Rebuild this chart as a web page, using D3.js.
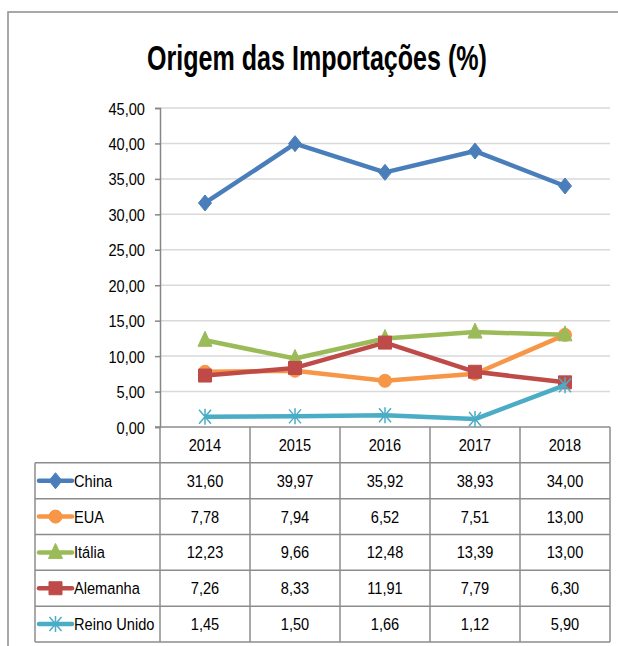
<!DOCTYPE html>
<html>
<head>
<meta charset="utf-8">
<script src="https://cdn.jsdelivr.net/npm/d3@7"></script>
<style>
  body { margin: 0; background: #fff; }
  svg { display: block; font-family: "Liberation Sans", Arial, sans-serif; }
</style>
</head>
<body>
<div id="chart"></div>
<script>
var years = ['2014', '2015', '2016', '2017', '2018'];
var seriesNames = ['China', 'EUA', 'Itália', 'Alemanha', 'Reino Unido'];
var china = [31.60, 39.97, 35.92, 38.93, 34.00];
var eua = [7.78, 7.94, 6.52, 7.51, 13.00];
var italia = [12.23, 9.66, 12.48, 13.39, 13.00];
var alemanha = [7.26, 8.33, 11.91, 7.79, 6.30];
var reinoUnido = [1.45, 1.50, 1.66, 1.12, 5.90];
var yTicks = [0, 5, 10, 15, 20, 25, 30, 35, 40, 45];

var seriesValues = [china, eua, italia, alemanha, reinoUnido];
var colors = ['#4A7EBB', '#F79646', '#9BBB59', '#BE4B48', '#4BACC6'];
var markers = ['diamond', 'circle', 'triangle', 'square', 'star'];

var W = 618, H = 646;
var plotLeft = 160, plotRight = 610, plotTop = 108, plotBottom = 427;
var tableLeft = 35, rowH = (642 - plotBottom) / 6;
var fontSize = 17, squeeze = 0.86;   // narrow text, the reference uses a condensed face

function fmt(v) { return v.toFixed(2).replace('.', ','); }

// text drawn with a horizontal squeeze
function narrowText(g, tx, ty, str, anchor) {
  return g.append("text")
    .attr("transform", "translate(" + tx + "," + ty + ") scale(" + squeeze + ",1)")
    .attr("text-anchor", anchor || "middle")
    .attr("font-size", fontSize)
    .attr("fill", "#000")
    .text(str);
}

var svg = d3.select("#chart").append("svg")
  .attr("width", W)
  .attr("height", H);

// outer frame
svg.append("rect")
  .attr("x", 8).attr("y", 12)
  .attr("width", W + 20).attr("height", H + 20)
  .attr("fill", "none")
  .attr("stroke", "#8c8c8c")
  .attr("stroke-width", 1.5);

var title = svg.append("text")
  .attr("text-anchor", "middle")
  .attr("font-size", 35)
  .attr("font-weight", "bold")
  .attr("fill", "#000")
  .text("Origem das Importações (%)");
var tw = title.node().getComputedTextLength();
title.attr("transform", "translate(317,70) scale(" + (340 / tw) + ",1)");

var x = d3.scaleBand().domain(years).range([plotLeft, plotRight]);
var y = d3.scaleLinear().domain([0, 45]).range([plotBottom, plotTop]);

// gridlines
svg.append("g")
  .selectAll("line")
  .data(yTicks.slice(1))
  .join("line")
    .attr("x1", plotLeft).attr("x2", plotRight)
    .attr("y1", function(d) { return y(d); })
    .attr("y2", function(d) { return y(d); })
    .attr("stroke", "#d9d9d9")
    .attr("stroke-width", 1.5);

var yAxis = d3.axisLeft(y)
  .tickValues(yTicks)
  .tickSize(5)
  .tickFormat(fmt);

var gy = svg.append("g")
  .attr("transform", "translate(" + plotLeft + ",0)")
  .call(yAxis);
gy.attr("font-family", null).attr("font-size", null);
gy.select(".domain").attr("stroke", "#868686").attr("stroke-width", 1.5);
gy.selectAll(".tick line").attr("stroke", "#868686").attr("stroke-width", 1.5);
gy.selectAll(".tick text")
  .attr("x", null).attr("dy", null)
  .attr("transform", "translate(-15,6) scale(" + squeeze + ",1)")
  .attr("font-size", fontSize)
  .attr("fill", "#000");

// data table
var table = svg.append("g").attr("stroke", "#8c8c8c").attr("stroke-width", 1.5);
table.append("line")
  .attr("x1", plotLeft - 5).attr("x2", plotRight)
  .attr("y1", plotBottom).attr("y2", plotBottom);
for (var r = 1; r <= 6; r++) {
  table.append("line")
    .attr("x1", tableLeft).attr("x2", plotRight)
    .attr("y1", plotBottom + r * rowH).attr("y2", plotBottom + r * rowH);
}
table.append("line")
  .attr("x1", tableLeft).attr("x2", tableLeft)
  .attr("y1", plotBottom + rowH).attr("y2", plotBottom + 6 * rowH);
table.selectAll(".col")
  .data(years.concat(['end']))
  .join("line")
    .attr("x1", function(d, i) { return plotLeft + i * x.bandwidth(); })
    .attr("x2", function(d, i) { return plotLeft + i * x.bandwidth(); })
    .attr("y1", plotBottom).attr("y2", plotBottom + 6 * rowH);

var header = svg.append("g");
years.forEach(function(yr) {
  narrowText(header, x(yr) + x.bandwidth() / 2, plotBottom + rowH / 2 + 6, yr);
});

function markerPath(type, cx, cy) {
  var p = d3.path();
  if (type === 'diamond') {
    p.moveTo(cx, cy - 8); p.lineTo(cx + 6.5, cy); p.lineTo(cx, cy + 8); p.lineTo(cx - 6.5, cy); p.closePath();
  } else if (type === 'circle') {
    p.moveTo(cx + 6.5, cy); p.arc(cx, cy, 6.5, 0, 2 * Math.PI);
  } else if (type === 'triangle') {
    p.moveTo(cx, cy - 9); p.lineTo(cx + 7, cy + 6); p.lineTo(cx - 7, cy + 6); p.closePath();
  } else if (type === 'square') {
    p.rect(cx - 6.5, cy - 6.5, 13, 13);
  } else {
    p.moveTo(cx - 6, cy - 7); p.lineTo(cx + 6, cy + 7);
    p.moveTo(cx + 6, cy - 7); p.lineTo(cx - 6, cy + 7);
    p.moveTo(cx, cy - 8); p.lineTo(cx, cy + 8);
  }
  return p.toString();
}

function drawMarker(g, type, color, cx, cy) {
  var m = g.append("path").attr("d", markerPath(type, cx, cy));
  if (type === 'star') {
    m.attr("fill", "none").attr("stroke", color).attr("stroke-width", 1.5);
  } else {
    m.attr("fill", color).attr("stroke", color).attr("stroke-width", 1);
  }
}

var line = d3.line()
  .x(function(d, i) { return x(years[i]) + x.bandwidth() / 2; })
  .y(function(d) { return y(d); });

seriesValues.forEach(function(vals, s) {
  var g = svg.append("g");
  g.append("path")
    .datum(vals)
    .attr("d", line)
    .attr("fill", "none")
    .attr("stroke", colors[s])
    .attr("stroke-width", 4.5)
    .attr("stroke-linejoin", "round");
  vals.forEach(function(v, i) {
    drawMarker(g, markers[s], colors[s], x(years[i]) + x.bandwidth() / 2, y(v));
  });

  // table row
  var cy = plotBottom + (s + 1) * rowH + rowH / 2;
  var key = svg.append("g");
  key.append("line")
    .attr("x1", 39).attr("x2", 72)
    .attr("y1", cy).attr("y2", cy)
    .attr("stroke", colors[s])
    .attr("stroke-width", 4.5)
    .attr("stroke-linecap", "round");
  drawMarker(key, markers[s], colors[s], 55.5, cy);
  narrowText(key, 74, cy + 6, seriesNames[s], "start");

  var cells = svg.append("g");
  vals.forEach(function(v, i) {
    narrowText(cells, x(years[i]) + x.bandwidth() / 2, cy + 6, fmt(v));
  });
});
</script>
</body>
</html>
